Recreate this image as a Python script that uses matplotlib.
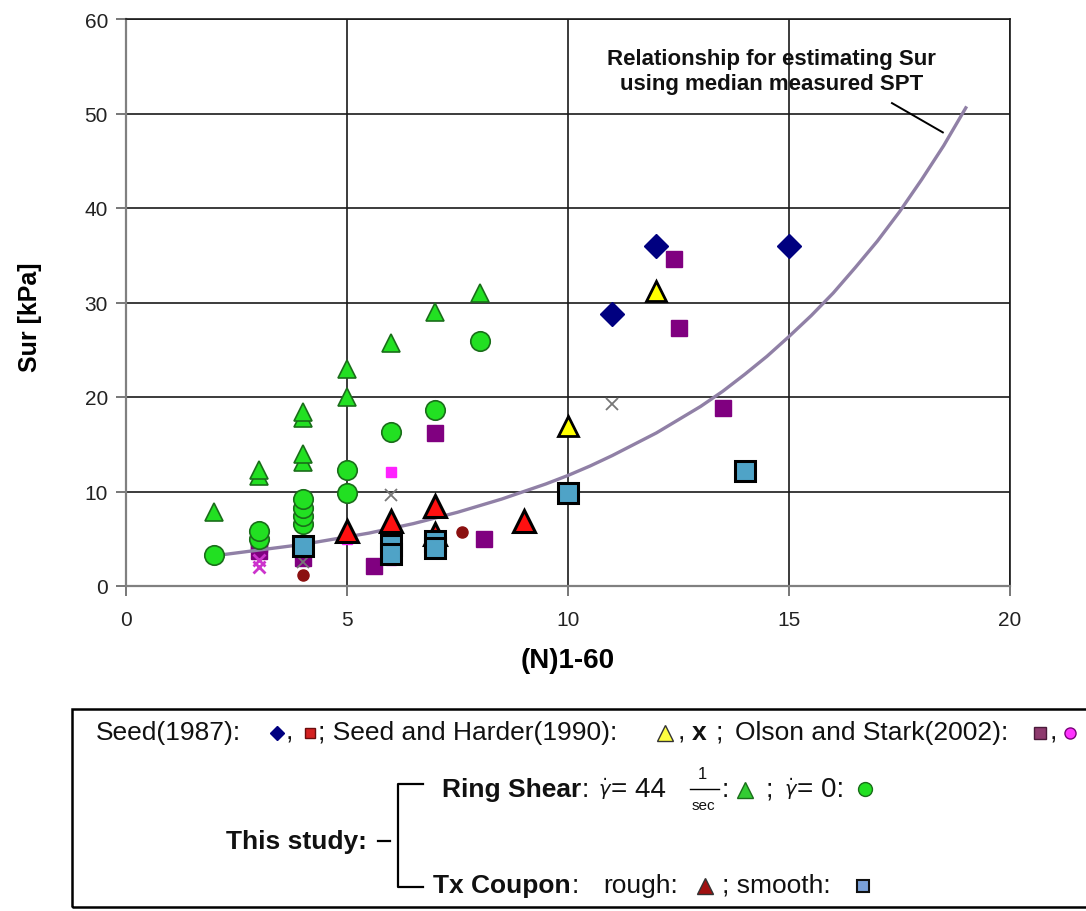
import matplotlib
matplotlib.use("Agg")
import matplotlib.pyplot as plt
import matplotlib.lines as mlines
import matplotlib.patches as mpatches

plt.rcParams['font.family'] = ['Liberation Sans', 'DejaVu Sans']

# ---------------- data ----------------
# Seed (1987)
seed87_x = [11, 12, 15]
seed87_y = [28.8, 36.0, 36.0]
seed87_red_x = [4, 7.6]
seed87_red_y = [1.2, 5.7]
# Seed and Harder (1990)
sh90_tri_x = [10, 12]
sh90_tri_y = [16.9, 31.2]
sh90_x_x = [4, 6, 11]
sh90_x_y = [2.5, 9.6, 19.3]
# Olson and Stark (2002)
olson_sq_x = [3, 3, 4, 5.6, 7, 8.1, 12.4, 12.5, 13.5]
olson_sq_y = [3.7, 4.4, 3.0, 2.1, 16.2, 5.0, 34.6, 27.3, 18.8]
olson_pt_x = [5, 6, 6]
olson_pt_y = [5.0, 12.1, 2.8]
olson_xm_x = [3, 3]
olson_xm_y = [2.7, 2.0]
# This study - ring shear
ring44_x = [2, 3, 3, 4, 4, 4, 4, 5, 5, 6, 7, 8]
ring44_y = [7.8, 11.6, 12.3, 17.8, 18.4, 13.1, 14.0, 20.0, 23.0, 25.7, 29.0, 31.0]
ring0_x = [2, 3, 3, 4, 4, 4, 4, 5, 5, 6, 7, 8]
ring0_y = [3.3, 5.0, 5.8, 6.6, 7.4, 8.3, 9.2, 9.8, 12.3, 16.3, 18.6, 25.9]
# This study - Tx coupon
rough_x = [5, 6, 7, 7, 9]
rough_y = [5.8, 6.9, 8.5, 5.5, 6.9]
smooth_x = [4, 6, 6, 7, 7, 10, 14]
smooth_y = [4.2, 4.3, 3.4, 4.8, 4.0, 9.8, 12.2]
# Relationship curve
curve_x = [2, 2.5, 3, 3.5, 4, 4.5, 5, 5.5, 6, 6.5, 7, 7.5, 8, 8.5, 9, 9.5,
           10, 10.5, 11, 11.5, 12, 12.5, 13, 13.5, 14, 14.5, 15, 15.5, 16,
           16.5, 17, 17.5, 18, 18.5, 19]
curve_y = [3.2, 3.5, 3.8, 4.1, 4.4, 4.8, 5.2, 5.6, 6.1, 6.6, 7.2, 7.8, 8.5,
           9.2, 10.0, 10.8, 11.7, 12.7, 13.8, 15.0, 16.2, 17.6, 19.0, 20.6,
           22.4, 24.3, 26.4, 28.6, 31.0, 33.7, 36.5, 39.6, 43.0, 46.6, 50.6]

x_ticks = [0, 5, 10, 15, 20]
y_ticks = [0, 10, 20, 30, 40, 50, 60]

W, H = 1086, 912
fig = plt.figure(figsize=(W / 100, H / 100), dpi=100)


def P(x, y):
    return (x / W, 1 - y / H)


ax = fig.add_axes([126 / W, 1 - 587 / H, (1010 - 126) / W, (587 - 20) / H])
ax.set_xlim(0, 20)
ax.set_ylim(0, 60)
ax.set_xticks(x_ticks)
ax.set_yticks(y_ticks)
ax.grid(True, color='#1a1a1a', lw=1.2)
ax.set_axisbelow(True)
for s in ['top', 'right']:
    ax.spines[s].set_color('#1a1a1a')
    ax.spines[s].set_linewidth(1.2)
for s in ['left', 'bottom']:
    ax.spines[s].set_color('#808080')
    ax.spines[s].set_linewidth(1.6)
ax.tick_params(direction='out', length=7, width=1.2, color='#606060',
               labelsize=15, labelcolor='#222222')
ax.tick_params(axis='x', pad=10)
ax.tick_params(axis='y', pad=6)

ax.set_xlabel('(N)1-60', fontsize=20, fontweight='bold', va='center')
ax.set_ylabel('Sur [kPa]', fontsize=18, fontweight='bold', va='center')
ax.xaxis.set_label_coords(0.5, -(661 - 587) / 567)
ax.yaxis.set_label_coords((30 - 126) / 884, (587 - 317) / 567)

# literature data
ax.plot(olson_sq_x, olson_sq_y, 's', color='#800080', mec='#800080', ms=11.5, zorder=3)
ax.plot(olson_pt_x, olson_pt_y, 's', color='#ff22ff', mec='#ff22ff', ms=7, zorder=3)
ax.plot(olson_xm_x, olson_xm_y, 'x', color='#cc33cc', ms=9, mew=2, zorder=3)
ax.plot(sh90_x_x, sh90_x_y, 'x', color='#777777', ms=9, mew=1.3, zorder=3)
ax.plot(seed87_x, seed87_y, 'D', color='#000080', mec='#000080', ms=12, zorder=3)
ax.plot(seed87_red_x, seed87_red_y, 'o', color='#8b1010', mec='#8b1010', ms=8, zorder=3)
ax.plot(sh90_tri_x, sh90_tri_y, '^', color='#ffff00', mec='black', mew=2, ms=14, zorder=4)

# curve
ax.plot(curve_x, curve_y, '-', color='#9080a6', lw=2.4, zorder=4)

# this study
ax.plot(ring44_x, ring44_y, '^', color='#22e022', mec='#1a6e1a', mew=1.2, ms=13.5, zorder=5)
ax.plot(ring0_x, ring0_y, 'o', color='#22e022', mec='#1a6e1a', mew=1.2, ms=14, zorder=5)
ax.plot(rough_x, rough_y, '^', color='#ff1010', mec='black', mew=2.2, ms=16, zorder=6)
ax.plot(smooth_x, smooth_y, 's', color='#4fa3c7', mec='black', mew=2.2, ms=14, zorder=6)

# annotation
ax.text(14.6, 54.5, 'Relationship for estimating Sur\nusing median measured SPT',
        ha='center', va='center', fontsize=16, fontweight='bold', linespacing=1.3,
        color='#111111')
ax.plot([17.33, 18.48], [51.1, 48.0], color='black', lw=1.4, zorder=4)

# ---------------- legend box ----------------
fig.add_artist(mpatches.Rectangle(P(72, 908), (1100 - 72) / W, (908 - 710) / H,
                                  transform=fig.transFigure, fill=False,
                                  ec='black', lw=1.8))

FS = 19


def T(x, y, s, **kw):
    kw.setdefault('fontsize', FS)
    kw.setdefault('va', 'center')
    kw.setdefault('ha', 'left')
    kw.setdefault('color', '#111111')
    fig.text(*P(x, y), s, **kw)


def M(x, y, marker, fc, ec, ms, mew=1.0):
    fx, fy = P(x, y)
    fig.add_artist(mlines.Line2D([fx], [fy], marker=marker, color=fc, mec=ec,
                                 ms=ms, mew=mew, transform=fig.transFigure))


def L(xs, ys, lw=1.6):
    pts = [P(x, y) for x, y in zip(xs, ys)]
    fig.add_artist(mlines.Line2D([p[0] for p in pts], [p[1] for p in pts],
                                 color='black', lw=lw, transform=fig.transFigure))


# line 1
y1 = 733
T(96, y1, 'Seed(1987):')
M(277, y1 + 1, 'D', '#000080', '#000080', 7.5)
T(286, y1, ',')
M(310, y1 + 1, 's', '#d42020', '#6b0d0d', 6.5)
T(318, y1, '; Seed and Harder(1990):')
M(665, y1 + 1, '^', '#ffff40', '#333333', 11)
T(678, y1, ',')
T(692, y1, 'x', fontweight='bold')
T(716, y1, ';')
T(735, y1, 'Olson and Stark(2002):')
M(1040, y1 + 1, 's', '#8e3a6e', '#4a1a3a', 9)
T(1050, y1, ',')
M(1070, y1 + 1, 'o', '#ff33ff', '#7a007a', 8)

# line 2: ring shear
y2 = 790
T(442, y2, 'Ring Shear', fontweight='bold')
T(582, y2, ':')
T(598, y2 - 1, r'$\dot{\gamma}$', fontsize=14)
T(611, y2, '= 44', fontsize=20)
T(698, y2 - 15, '1', fontsize=12)
T(692, y2 + 16, 'sec', fontsize=11)
L([690, 719], [y2, y2], lw=1.0)
T(722, y2, ':')
M(745, y2 + 1, '^', '#33cc33', '#1a6e1a', 12)
T(766, y2, ';')
T(784, y2 - 1, r'$\dot{\gamma}$', fontsize=14)
T(797, y2, '= 0:', fontsize=20)
M(865, y2, 'o', '#22e022', '#1a6e1a', 10)

# line 3: Tx coupon
y3 = 886
T(433, y3, 'Tx Coupon', fontweight='bold')
T(572, y3, ':')
T(603, y3, 'rough:')
M(705, y3 + 1, '^', '#a01010', '#333333', 11)
T(722, y3, '; smooth:')
M(863, y3 + 1, 's', '#7aa0d8', '#111111', 8.5, mew=1.5)

# this study + bracket
ym = 842
T(226, ym, 'This study:', fontweight='bold')
L([378, 390], [ym, ym])
L([423, 398, 398, 423], [785, 785, 888, 888])

fig.savefig('out.png', dpi=100)
